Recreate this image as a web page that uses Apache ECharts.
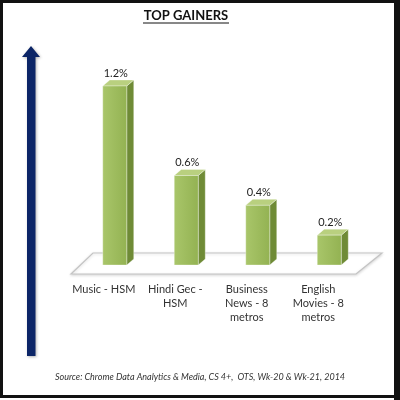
<!DOCTYPE html>
<html>
<head>
<meta charset="utf-8">
<script src="https://cdn.jsdelivr.net/npm/echarts@6/dist/echarts.min.js"></script>
<style>
  html, body { margin: 0; padding: 0; background: #fff; }
  #chart { width: 400px; height: 400px; }
</style>
</head>
<body>
<div id="chart"></div>
<script>
// 数据
const categories = ['Music - HSM', 'Hindi Gec -\nHSM', 'Business\nNews - 8\nmetros', 'English\nMovies - 8\nmetros'];
const gains = [1.2, 0.6, 0.4, 0.2];
const TITLE = 'TOP GAINERS';
const SOURCE = 'Source: Chrome Data Analytics & Media, CS 4+,  OTS, Wk-20 & Wk-21, 2014';

// 3D 柱样式
const BAR_SHIFT = 11;   // 柱相对类目中心右移（透视）
const HALF_W = 12;
const DEPTH_X = 7, DEPTH_Y = 6;
const FONT = "Lato, 'Open Sans', sans-serif";

function renderBar(params, api) {
  const top = api.coord([api.value(0), api.value(1)]);
  const base = api.coord([api.value(0), 0]);
  const cx = top[0] + BAR_SHIFT;
  const l = cx - HALF_W, r = cx + HALF_W, t = top[1], b = base[1];
  const edge = { stroke: 'rgba(255,255,255,0.55)', lineWidth: 0.6 };
  return {
    type: 'group',
    children: [
      { type: 'polygon', shape: { points: [[r, t], [r + DEPTH_X, t - DEPTH_Y], [r + DEPTH_X, b - DEPTH_Y], [r, b]] },
        style: Object.assign({ fill: '#6f8b36' }, edge) },
      { type: 'polygon', shape: { points: [[l, t], [l + DEPTH_X, t - DEPTH_Y], [r + DEPTH_X, t - DEPTH_Y], [r, t]] },
        style: Object.assign({ fill: '#b9d07f' }, edge) },
      { type: 'rect', shape: { x: l, y: t, width: r - l, height: b - t },
        style: Object.assign({
          fill: new echarts.graphic.LinearGradient(0, 0, 1, 0, [
            { offset: 0, color: '#a9c66a' },
            { offset: 1, color: '#93b252' },
          ]),
        }, edge) },
      { type: 'text', x: cx + 1, y: t - 13,
        style: { text: api.value(1).toFixed(1) + '%', fill: '#222', font: '11px ' + FONT, align: 'center', verticalAlign: 'middle' } },
    ],
  };
}

const chart = echarts.init(document.getElementById('chart'));
chart.setOption({
  animation: false,
  backgroundColor: '#fff',
  title: [
    { text: SOURCE, left: 'center', top: 368,
      textStyle: { fontFamily: FONT, fontSize: 9, fontStyle: 'italic', fontWeight: 'normal', color: '#333' } },
  ],
  grid: { left: 68, right: 46, top: 86, bottom: 135 },
  xAxis: {
    type: 'category',
    data: categories,
    axisLine: { show: false },
    axisTick: { show: false },
    axisLabel: { color: '#333', fontFamily: FONT, fontSize: 11, lineHeight: 14, margin: 17, interval: 0 },
  },
  yAxis: { type: 'value', min: 0, max: 1.2, show: false },
  graphic: [
    // 外框
    { type: 'rect', shape: { x: 1.5, y: 1.5, width: 394, height: 395 }, style: { fill: null, stroke: '#111', lineWidth: 3 }, z: 100 },
    { type: 'rect', shape: { x: 394, y: 0, width: 6, height: 400 }, style: { fill: '#111' }, z: 100 },
    // 标题
    { type: 'text', x: 186, y: 16, style: { text: TITLE, font: 'bold 13px ' + FONT, fill: '#111', align: 'center', verticalAlign: 'middle' } },
    { type: 'line', shape: { x1: 143, y1: 23, x2: 229, y2: 23 }, style: { stroke: '#111', lineWidth: 1 } },
    // 蓝色上箭头
    { type: 'polygon', shape: { points: [[31, 46], [40, 57], [35.5, 57], [35.5, 356], [27, 356], [27, 57], [22, 57]] },
      style: { fill: '#0c2567', shadowBlur: 3, shadowColor: 'rgba(0,0,0,0.3)', shadowOffsetX: 1, shadowOffsetY: 1 } },
    // 地板
    { type: 'polygon', z: -1, shape: { points: [[71, 274], [93, 253], [382, 253], [356, 274]] },
      style: { fill: '#fff', stroke: '#c4c4c4', lineWidth: 1.2, shadowBlur: 3, shadowColor: 'rgba(0,0,0,0.15)', shadowOffsetY: 1 } },
  ],
  series: [{
    type: 'custom',
    renderItem: renderBar,
    data: gains.map((v, i) => [i, v]),
    z: 5,
  }],
});
</script>
</body>
</html>
